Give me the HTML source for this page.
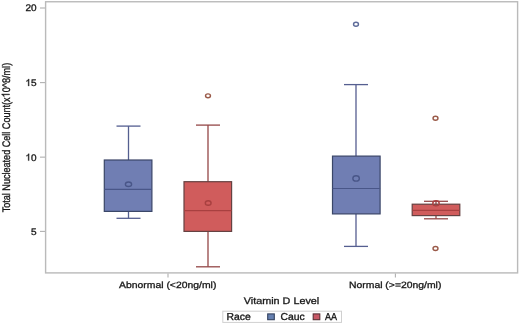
<!DOCTYPE html>
<html>
<head>
<meta charset="utf-8">
<style>
html,body{margin:0;padding:0;background:#fff;}
body{width:520px;height:325px;overflow:hidden;}
svg{display:block;will-change:transform;}
text{text-rendering:geometricPrecision;font-family:"Liberation Sans",sans-serif;fill:#1a1a1a;stroke:#1a1a1a;stroke-width:0.35px;}
</style>
</head>
<body>
<svg width="520" height="325" viewBox="0 0 520 325">
<defs><filter id="soft" x="-5%" y="-5%" width="110%" height="110%"><feGaussianBlur stdDeviation="0.3"/></filter></defs>
<rect x="0" y="0" width="520" height="325" fill="#fff"/>
<g filter="url(#soft)">
<g transform="translate(9.5,137.6) scale(1,0.825) rotate(-90)">
<text id="yt" font-size="11.0" text-anchor="middle">Total Nucleated Cell Count(x&#x2007;0^8/ml)</text>
<path d="M763 0H583V1147Q518 1085 412.5 1023T222 930V1104Q373 1175 486 1276T646 1472H763Z" fill="#1a1a1a" stroke="#1a1a1a" stroke-width="65.2" transform="translate(48.77,0) scale(0.005371,-0.005371)"/>
</g>
<g stroke="#b0b0b0" stroke-width="1.1">
<line x1="40" y1="8.0" x2="45" y2="8.0"/>
<line x1="40" y1="82.6" x2="45" y2="82.6"/>
<line x1="40" y1="157.15" x2="45" y2="157.15"/>
<line x1="40" y1="231.4" x2="45" y2="231.4"/>
</g>
<text font-size="10.0" text-anchor="end" transform="translate(36.5,10.8) scale(1,0.95)">20</text>
<text font-size="10.0" text-anchor="end" transform="translate(36.5,85.9) scale(1,0.95)">5</text>
<path d="M763 0H583V1147Q518 1085 412.5 1023T222 930V1104Q373 1175 486 1276T646 1472H763Z" fill="#1a1a1a" stroke="#1a1a1a" stroke-width="71.7" transform="translate(25.38,85.9) scale(0.004883,-0.004639)"/>
<text font-size="10.0" text-anchor="end" transform="translate(36.5,160.6) scale(1,0.95)">0</text>
<path d="M763 0H583V1147Q518 1085 412.5 1023T222 930V1104Q373 1175 486 1276T646 1472H763Z" fill="#1a1a1a" stroke="#1a1a1a" stroke-width="71.7" transform="translate(25.38,160.6) scale(0.004883,-0.004639)"/>
<text font-size="10.0" text-anchor="end" transform="translate(36.5,234.8) scale(1,0.95)">5</text>
<rect x="45.6" y="1.75" width="472.0" height="271.15" fill="none" stroke="#bababa" stroke-width="1.4"/>
<g stroke="#b0b0b0" stroke-width="1.1">
<line x1="168.0" y1="273.5" x2="168.0" y2="277.5"/>
<line x1="395.4" y1="273.5" x2="395.4" y2="277.5"/>
</g>
<text font-size="10.4" text-anchor="middle" transform="translate(167.7,287.9) scale(1,0.88)">Abnormal (&lt;20ng/ml)</text>
<text font-size="10.4" text-anchor="middle" transform="translate(395.2,287.9) scale(1,0.88)">Normal (&gt;=20ng/ml)</text>
<text font-size="10.8" text-anchor="middle" transform="translate(281.5,303.8) scale(1,0.88)">Vitamin D Level</text>
<g stroke="#555e90" stroke-width="1.3" fill="none">
<line x1="128.5" y1="126.1" x2="128.5" y2="160.0"/>
<line x1="116.5" y1="126.1" x2="140.5" y2="126.1"/>
<line x1="128.5" y1="211.4" x2="128.5" y2="218.3"/>
<line x1="116.5" y1="218.3" x2="140.5" y2="218.3"/>
</g>
<rect x="104.3" y="160.0" width="47.6" height="51.40" fill="#6f7eb3" stroke="#3b4668" stroke-width="1.2"/>
<line x1="104.3" y1="189.4" x2="151.9" y2="189.4" stroke="#4a5688" stroke-width="1.2"/>
<ellipse cx="128.5" cy="184.2" rx="3.1" ry="2.25" fill="none" stroke="#4a5688" stroke-width="1.4"/>
<g stroke="#944848" stroke-width="1.3" fill="none">
<line x1="208.0" y1="125.1" x2="208.0" y2="181.7"/>
<line x1="196.0" y1="125.1" x2="220.0" y2="125.1"/>
<line x1="208.0" y1="231.4" x2="208.0" y2="266.8"/>
<line x1="196.0" y1="266.8" x2="220.0" y2="266.8"/>
</g>
<rect x="184.0" y="181.7" width="47.6" height="49.70" fill="#d05b5b" stroke="#654242" stroke-width="1.2"/>
<line x1="184.0" y1="210.7" x2="231.60000000000002" y2="210.7" stroke="#a84040" stroke-width="1.2"/>
<ellipse cx="208.2" cy="203.0" rx="2.9" ry="2.25" fill="none" stroke="#a84040" stroke-width="1.4"/>
<ellipse cx="208.0" cy="95.8" rx="2.45" ry="1.95" fill="none" stroke="#9a5a48" stroke-width="1.45"/>
<g stroke="#555e90" stroke-width="1.3" fill="none">
<line x1="356.0" y1="84.6" x2="356.0" y2="156.1"/>
<line x1="344.0" y1="84.6" x2="368.0" y2="84.6"/>
<line x1="356.0" y1="213.9" x2="356.0" y2="246.4"/>
<line x1="344.0" y1="246.4" x2="368.0" y2="246.4"/>
</g>
<rect x="332.5" y="156.1" width="47.6" height="57.80" fill="#6f7eb3" stroke="#3b4668" stroke-width="1.2"/>
<line x1="332.5" y1="188.5" x2="380.1" y2="188.5" stroke="#4a5688" stroke-width="1.2"/>
<ellipse cx="356.1" cy="178.4" rx="3.25" ry="2.7" fill="none" stroke="#4a5688" stroke-width="1.4"/>
<ellipse cx="356.0" cy="24.2" rx="2.45" ry="1.95" fill="none" stroke="#5e6c9a" stroke-width="1.45"/>
<g stroke="#944848" stroke-width="1.3" fill="none">
<line x1="436.0" y1="201.3" x2="436.0" y2="204.2"/>
<line x1="424.0" y1="201.3" x2="448.0" y2="201.3"/>
<line x1="436.0" y1="215.6" x2="436.0" y2="218.8"/>
<line x1="424.0" y1="218.8" x2="448.0" y2="218.8"/>
</g>
<rect x="412.2" y="204.2" width="47.6" height="11.40" fill="#d05b5b" stroke="#654242" stroke-width="1.2"/>
<line x1="412.2" y1="210.45" x2="459.8" y2="210.45" stroke="#a84040" stroke-width="1.2"/>
<ellipse cx="436.0" cy="203.3" rx="3.2" ry="2.6" fill="none" stroke="#a84040" stroke-width="1.4"/>
<ellipse cx="435.5" cy="118.2" rx="2.45" ry="1.95" fill="none" stroke="#9a5a48" stroke-width="1.45"/>
<ellipse cx="435.5" cy="248.5" rx="2.45" ry="1.95" fill="none" stroke="#9a5a48" stroke-width="1.45"/>
<rect x="222.8" y="311.2" width="118.7" height="11.2" fill="#fff" stroke="#d0d0d0" stroke-width="1"/>
<text font-size="10.4" text-anchor="start" transform="translate(226.5,319.8) scale(1,0.97)">Race</text>
<text font-size="10.4" text-anchor="start" transform="translate(280.4,319.8) scale(1,0.97)">Cauc</text>
<text font-size="10.4" text-anchor="start" textLength="12.0" lengthAdjust="spacingAndGlyphs" transform="translate(324.9,319.8) scale(1,0.97)">AA</text>
<rect x="267.7" y="313.9" width="6.6" height="5.8" fill="#6680b0" stroke="#34425f" stroke-width="1.1"/>
<rect x="313.2" y="313.9" width="6.6" height="5.8" fill="#c85866" stroke="#5a3036" stroke-width="1.1"/>
</g>
</svg>
</body>
</html>
